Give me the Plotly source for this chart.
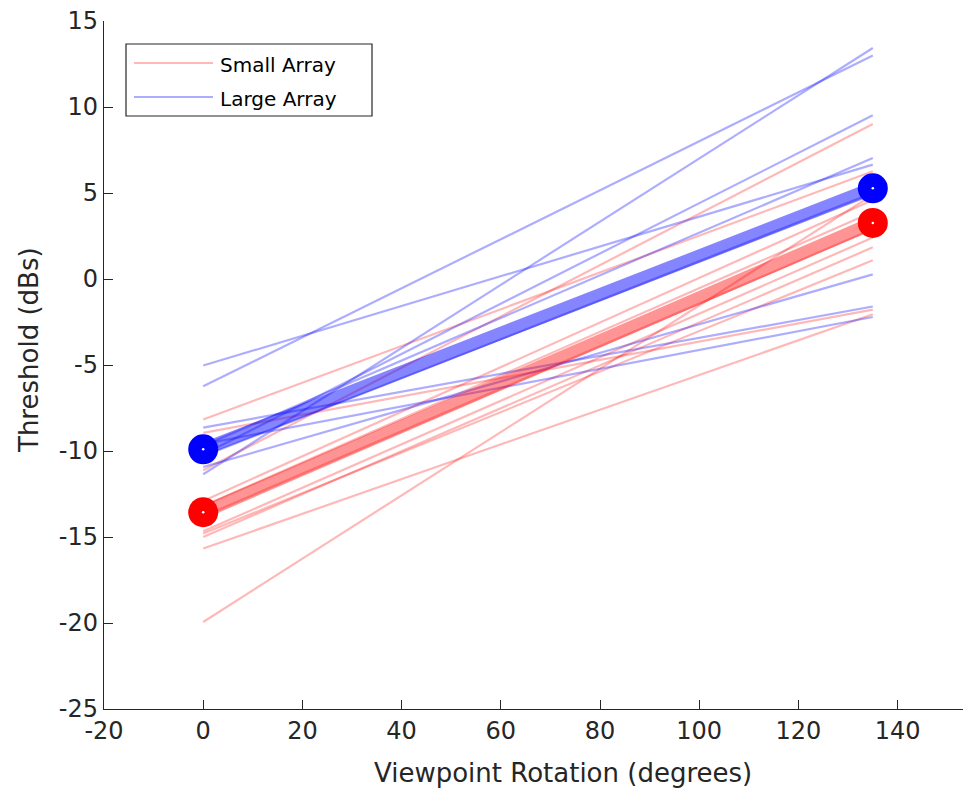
import plotly.graph_objects as go

# Viewpoint rotations (degrees) at which thresholds were measured
rotations = [0, 135]

# Per-listener thresholds (dBs) at 0 and 135 degrees
small_start = [-8.17, -8.95, -11.12, -19.94, -14.67, -14.80, -15.00, -15.67, -13.20, -13.80, -12.90]
small_end = [6.26, -1.78, 9.01, 4.90, 2.41, 1.09, 1.84, -2.05, 3.90, 2.90, 4.60]
large_start = [-11.35, -6.24, -10.20, -5.03, -9.70, -10.93, -8.64, -9.60, -10.30]
large_end = [13.43, 13.00, 9.52, 6.65, 7.03, 0.27, -1.60, -2.21, 5.00]

# Group means (dBs)
small_mean = [-13.56, 3.26]
large_mean = [-9.90, 5.27]

legend_labels = ["Small Array", "Large Array"]

x_ticks = [-20, 0, 20, 40, 60, 80, 100, 120, 140]
x_tick_text = ["-20", "0", "20", "40", "60", "80", "100", "120", "140"]
y_ticks = [-25, -20, -15, -10, -5, 0, 5, 10, 15]
y_tick_text = ["-25", "-20", "-15", "-10", "-5", "0", "5", "10", "15"]

W, H = 963, 794
ML, MR, MT, MB = 104, 0, 21, 85
PW, PH = W - ML - MR, H - MT - MB

FONT = "DejaVu Sans"
INK = "#262626"
RED_THIN = "rgba(255,0,0,0.28)"
BLUE_THIN = "rgba(0,0,255,0.32)"


def px(x):
    return (x - ML) / PW


def py(y):
    return 1 - (y - MT) / PH


fig = go.Figure()

for a, b in zip(small_start, small_end):
    fig.add_trace(go.Scatter(x=rotations, y=[a, b], mode="lines",
                             line=dict(color=RED_THIN, width=2.2),
                             showlegend=False, hoverinfo="skip"))
for a, b in zip(large_start, large_end):
    fig.add_trace(go.Scatter(x=rotations, y=[a, b], mode="lines",
                             line=dict(color=BLUE_THIN, width=2.2),
                             showlegend=False, hoverinfo="skip"))

# Mean lines
fig.add_trace(go.Scatter(x=rotations, y=large_mean, mode="lines",
                         line=dict(color="rgba(0,0,255,0.48)", width=13),
                         showlegend=False))
fig.add_trace(go.Scatter(x=rotations, y=small_mean, mode="lines",
                         line=dict(color="rgba(255,0,0,0.42)", width=13),
                         showlegend=False))

# Mean endpoint markers
for means, col in ((large_mean, "#0000ff"), (small_mean, "#ff0000")):
    fig.add_trace(go.Scatter(x=rotations, y=means, mode="markers",
                             marker=dict(color=col, size=30, line=dict(width=0)),
                             showlegend=False))
    fig.add_trace(go.Scatter(x=rotations, y=means, mode="markers",
                             marker=dict(color="white", size=2.5, line=dict(width=0)),
                             showlegend=False))

# Legend box drawn in pixel positions
shapes = [
    dict(type="rect", xref="paper", yref="paper",
         x0=px(126), x1=px(372), y0=py(44), y1=py(116),
         line=dict(color=INK, width=1.2), fillcolor="white", layer="above"),
    dict(type="line", xref="paper", yref="paper",
         x0=px(134), x1=px(213), y0=py(63), y1=py(63),
         line=dict(color=RED_THIN, width=2.2), layer="above"),
    dict(type="line", xref="paper", yref="paper",
         x0=px(134), x1=px(213), y0=py(97), y1=py(97),
         line=dict(color=BLUE_THIN, width=2.2), layer="above"),
]

annotations = [
    dict(text=legend_labels[0], xref="paper", yref="paper", x=px(218), y=py(65),
         xanchor="left", yanchor="middle", showarrow=False,
         font=dict(family=FONT, size=20, color="black")),
    dict(text=legend_labels[1], xref="paper", yref="paper", x=px(218), y=py(99),
         xanchor="left", yanchor="middle", showarrow=False,
         font=dict(family=FONT, size=20, color="black")),
    dict(text="Viewpoint Rotation (degrees)", xref="paper", yref="paper",
         x=px(563), y=py(773), xanchor="center", yanchor="middle", showarrow=False,
         font=dict(family=FONT, size=26, color=INK)),
    dict(text="Threshold (dBs)", xref="paper", yref="paper",
         x=px(29), y=py(350), xanchor="center", yanchor="middle", showarrow=False,
         textangle=-90, font=dict(family=FONT, size=26, color=INK)),
]

axis_common = dict(showgrid=False, zeroline=False, showline=True,
                   linecolor=INK, linewidth=1.3, ticks="inside", ticklen=9,
                   tickwidth=1.3, tickcolor=INK,
                   tickfont=dict(family=FONT, size=24, color=INK))

fig.update_layout(
    width=W, height=H,
    margin=dict(l=ML, r=MR, t=MT, b=MB, pad=0),
    paper_bgcolor="white", plot_bgcolor="white",
    xaxis=dict(range=[-20, -20 + PW / 4.96], tickvals=x_ticks, ticktext=x_tick_text,
               **axis_common),
    yaxis=dict(range=[-25, 15], tickvals=y_ticks, ticktext=y_tick_text,
               **axis_common),
    shapes=shapes, annotations=annotations,
    showlegend=False,
)

fig.write_html("out.html")
